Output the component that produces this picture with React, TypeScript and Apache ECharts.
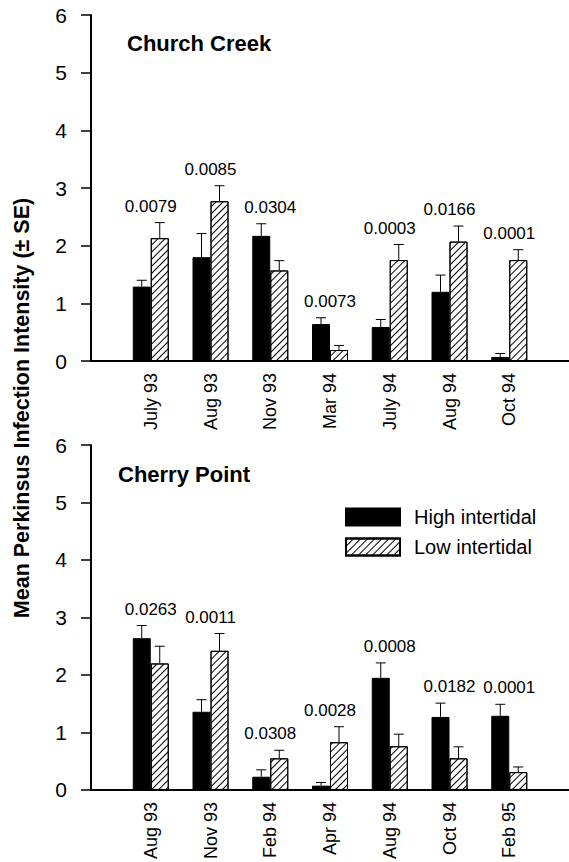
import React, { useEffect, useRef } from 'react';
import * as echarts from 'echarts';

// ---- Church Creek (top panel) ----
const catsCC = ['July 93', 'Aug 93', 'Nov 93', 'Mar 94', 'July 94', 'Aug 94', 'Oct 94'];
const highCC = [1.29, 1.8, 2.17, 0.64, 0.59, 1.2, 0.07];
const highSECC = [0.11, 0.41, 0.21, 0.11, 0.13, 0.29, 0.06];
const lowCC = [2.13, 2.77, 1.57, 0.19, 1.75, 2.07, 1.75];
const lowSECC = [0.27, 0.27, 0.17, 0.08, 0.27, 0.27, 0.18];
const pCC = ['0.0079', '0.0085', '0.0304', '0.0073', '0.0003', '0.0166', '0.0001'];

// ---- Cherry Point (bottom panel) ----
const catsCP = ['Aug 93', 'Nov 93', 'Feb 94', 'Apr 94', 'Aug 94', 'Oct 94', 'Feb 95'];
const highCP = [2.64, 1.36, 0.23, 0.075, 1.95, 1.27, 1.29];
const highSECP = [0.22, 0.21, 0.12, 0.055, 0.26, 0.24, 0.2];
const lowCP = [2.2, 2.42, 0.55, 0.83, 0.76, 0.55, 0.31];
const lowSECP = [0.3, 0.3, 0.14, 0.27, 0.21, 0.2, 0.09];
const pCP = ['0.0263', '0.0011', '0.0308', '0.0028', '0.0008', '0.0182', '0.0001'];

const yTicks = [0, 1, 2, 3, 4, 5, 6];
const seriesNames = ['High intertidal', 'Low intertidal'];
const panelTitles = ['Church Creek', 'Cherry Point'];
const yTitle = 'Mean Perkinsus Infection Intensity (± SE)';

const FONT = '"Liberation Sans", Arial, sans-serif';

const hatch = {
  symbol: 'rect',
  symbolSize: 1,
  color: '#000',
  backgroundColor: '#fff',
  dashArrayX: [1, 0],
  dashArrayY: [1, 4],
  rotation: -Math.PI / 4,
};

function panelSeries(g: number, high: number[], highSE: number[], low: number[], lowSE: number[], pv: string[]) {
  const pad = (a: number[]) => [null, ...a, null];
  const errSeries = (vals: number[], se: number[], dx: number) => ({
    type: 'custom',
    xAxisIndex: g,
    yAxisIndex: g,
    z: 5,
    silent: true,
    data: vals.map((v, i) => [i + 1, v, v + se[i]]),
    encode: { x: 0, y: 2 },
    renderItem: (_p: any, api: any) => {
      const idx = api.value(0);
      const base = api.coord([idx, api.value(1)]);
      const top = api.coord([idx, api.value(2)]);
      const x = base[0] + dx;
      const st = { stroke: '#000', lineWidth: 1 };
      return {
        type: 'group',
        children: [
          { type: 'line', shape: { x1: x, y1: base[1], x2: x, y2: top[1] }, style: st },
          { type: 'line', shape: { x1: x - 5, y1: top[1], x2: x + 5, y2: top[1] }, style: st },
        ],
      };
    },
  });
  return [
    {
      name: seriesNames[0],
      type: 'bar',
      xAxisIndex: g,
      yAxisIndex: g,
      barWidth: 18,
      barGap: '0%',
      data: pad(high),
      itemStyle: { color: '#000', borderColor: '#000', borderWidth: 1 },
    },
    {
      name: seriesNames[1],
      type: 'bar',
      xAxisIndex: g,
      yAxisIndex: g,
      barWidth: 18,
      barGap: '0%',
      data: pad(low),
      itemStyle: { color: '#fff', borderColor: '#000', borderWidth: 1, decal: hatch },
    },
    errSeries(high, highSE, -9),
    errSeries(low, lowSE, 9),
    {
      type: 'scatter',
      xAxisIndex: g,
      yAxisIndex: g,
      symbolSize: 0,
      silent: true,
      itemStyle: { opacity: 1 },
      data: high.map((v, i) => [i + 1, Math.max(v + highSE[i], low[i] + lowSE[i])]),
      label: {
        show: true,
        position: 'top',
        distance: 8,
        formatter: (p: any) => pv[p.dataIndex],
        fontSize: 17,
        color: '#000',
        opacity: 1,
        fontFamily: FONT,
      },
    },
  ];
}

export default function App() {
  const ref = useRef<HTMLDivElement>(null);
  useEffect(() => {
    if (!ref.current) return;
    const chart = echarts.init(ref.current, undefined, { renderer: 'svg' });
    const grids = [
      { left: 91, top: 15, width: 480, height: 346 },
      { left: 91, top: 445, width: 480, height: 346 },
    ];
    const xAxis = [catsCC, catsCP].map((cats, i) => ({
      type: 'category',
      gridIndex: i,
      data: ['', ...cats, ''],
      boundaryGap: false,
      axisLine: { lineStyle: { color: '#000', width: 2 } },
      axisTick: { show: false },
      axisLabel: {
        rotate: 90,
        margin: 12,
        fontSize: 18,
        color: '#000',
        fontFamily: FONT,
        interval: 0,
      },
    }));
    const yAxis = [0, 1].map((i) => ({
      type: 'value',
      gridIndex: i,
      min: yTicks[0],
      max: yTicks[yTicks.length - 1],
      interval: 1,
      splitLine: { show: false },
      axisLine: { show: true, lineStyle: { color: '#000', width: 2 } },
      axisTick: { show: true, length: 10, lineStyle: { color: '#000', width: 1.5 } },
      axisLabel: { margin: 24, fontSize: 21, color: '#000', fontFamily: FONT },
    }));
    chart.setOption({
      animation: false,
      textStyle: { fontFamily: FONT },
      grid: grids,
      xAxis,
      yAxis,
      legend: {
        data: seriesNames,
        orient: 'vertical',
        left: 340,
        top: 502,
        itemWidth: 54,
        itemHeight: 17,
        itemGap: 10,
        selectedMode: false,
        icon: 'rect',
        textStyle: { fontSize: 20, color: '#000', fontFamily: FONT, padding: [0, 0, 0, 9] },
      },
      graphic: [
        {
          type: 'text',
          x: 127,
          y: 43,
          style: { text: panelTitles[0], font: `bold 22px ${FONT}`, fill: '#000', textVerticalAlign: 'middle' },
        },
        {
          type: 'text',
          x: 118,
          y: 474,
          style: { text: panelTitles[1], font: `bold 22px ${FONT}`, fill: '#000', textVerticalAlign: 'middle' },
        },
        {
          type: 'text',
          x: 22,
          y: 408,
          rotation: Math.PI / 2,
          style: {
            text: yTitle,
            font: `bold 21.5px ${FONT}`,
            fill: '#000',
            textAlign: 'center',
            textVerticalAlign: 'middle',
          },
        },
      ],
      series: [
        ...panelSeries(0, highCC, highSECC, lowCC, lowSECC, pCC),
        ...panelSeries(1, highCP, highSECP, lowCP, lowSECP, pCP),
      ],
    });
    return () => chart.dispose();
  }, []);
  return (
    <div
      ref={ref}
      style={{ position: 'fixed', left: 0, top: 0, width: 569, height: 862, background: '#fff' }}
    />
  );
}
